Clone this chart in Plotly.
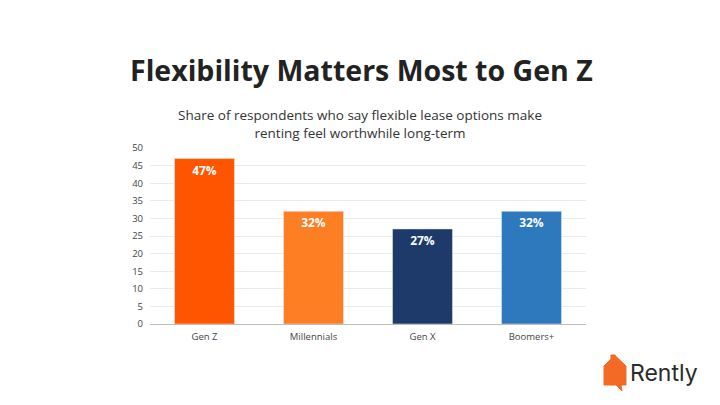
import plotly.graph_objects as go

categories = ["Gen Z", "Millennials", "Gen X", "Boomers+"]
values = [47, 32, 27, 32]
labels = ["47%", "32%", "27%", "32%"]
colors = ["#FF5500", "#FD7E23", "#1E3A6B", "#2E78BE"]
y_ticks = [0, 5, 10, 15, 20, 25, 30, 35, 40, 45, 50]

OFF = 8  # page body margin offset
W, H = 720 - OFF, 405 - OFF
L, R, T, B = 150, 586, 148, 324

def px(x):
    return (x - L) / (R - L)

def py(y):
    return (B - y) / (B - T)

fig = go.Figure(go.Bar(
    x=categories, y=values, marker_color=colors, text=labels,
    textposition="inside", insidetextanchor="end",
    textfont=dict(color="white", size=12, family="Open Sans", weight="bold"),
    width=0.55, hoverinfo="skip", cliponaxis=False,
))

house = [(604, 366), (611, 359), (611, 355), (615, 355), (615.5, 356), (626, 366),
         (626, 385), (621, 385), (622, 391), (616, 385), (604, 385)]
path = "M " + " L ".join(f"{px(a):.4f},{py(b):.4f}" for a, b in house) + " Z"

fig.update_layout(
    width=W, height=H,
    margin=dict(l=L - OFF, r=720 - R, t=T - OFF, b=405 - B, pad=0),
    paper_bgcolor="white", plot_bgcolor="white",
    showlegend=False,
    font=dict(family="Open Sans", color="#555555"),
    xaxis=dict(showgrid=False, showline=True, linecolor="#BDBDBD", linewidth=1,
               tickfont=dict(size=9.5, color="#444444"), ticks="", ticklabelstandoff=4),
    yaxis=dict(range=[0, 50], tickvals=y_ticks, showgrid=True, gridcolor="#EBEBEB",
               gridwidth=1, zeroline=False, showline=False,
               tickfont=dict(size=9.5, color="#444444"), ticklabelstandoff=6),
    annotations=[
        dict(text="<b>Flexibility Matters Most to Gen Z</b>", x=px(361), y=py(70),
             xref="paper", yref="paper", showarrow=False,
             font=dict(size=28.5, color="#222222", family="Open Sans"),
             xanchor="center", yanchor="middle"),
        dict(text="Share of respondents who say flexible lease options make<br>renting feel worthwhile long-term",
             x=px(360), y=py(124), xref="paper", yref="paper", showarrow=False,
             font=dict(size=13.5, color="#333333", family="Open Sans"),
             xanchor="center", yanchor="middle"),
        dict(text="Rently", x=px(628), y=py(373), xref="paper", yref="paper",
             showarrow=False, font=dict(size=23, color="#2B2B2B", family="Inter"),
             xanchor="left", yanchor="middle"),
    ],
    shapes=[dict(type="path", path=path, xref="paper", yref="paper",
                 fillcolor="#F26A25", line=dict(color="#F26A25", width=1))],
)

fig.write_html("out.html")
